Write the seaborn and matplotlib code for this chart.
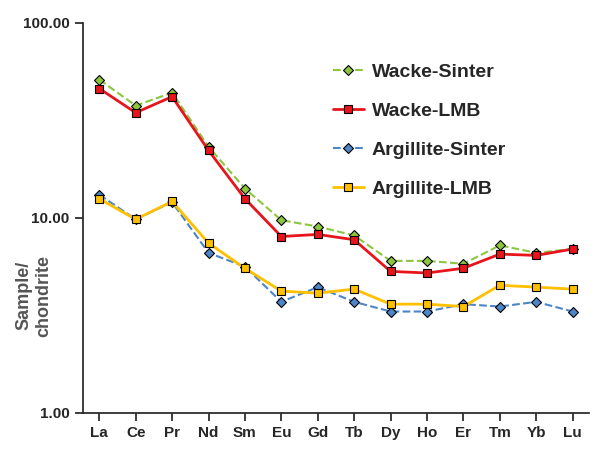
import numpy as np
import pandas as pd
import matplotlib
matplotlib.use('Agg')
import matplotlib.pyplot as plt
import seaborn as sns

sns.set_theme(style='ticks')
plt.rcParams['font.family'] = ['Liberation Sans', 'DejaVu Sans']

elements = ['La', 'Ce', 'Pr', 'Nd', 'Sm', 'Eu', 'Gd', 'Tb', 'Dy', 'Ho', 'Er', 'Tm', 'Yb', 'Lu']
wacke_sinter = [51, 37.5, 43.7, 23.1, 14.1, 9.7, 9.0, 8.1, 6.0, 6.0, 5.8, 7.2, 6.6, 6.9]
wacke_lmb = [45.9, 34.5, 41.7, 22.1, 12.5, 8.0, 8.2, 7.7, 5.3, 5.2, 5.5, 6.5, 6.4, 6.9]
argillite_sinter = [13.1, 9.8, 12.0, 6.6, 5.6, 3.7, 4.4, 3.7, 3.3, 3.3, 3.6, 3.5, 3.7, 3.3]
argillite_lmb = [12.5, 9.8, 12.1, 7.4, 5.5, 4.2, 4.1, 4.3, 3.6, 3.6, 3.5, 4.5, 4.4, 4.3]

series = {
    'Wacke-Sinter': (wacke_sinter, '#8cc63f', 'D', '--', 5),
    'Wacke-LMB': (wacke_lmb, '#e8141c', 's', '-', 6),
    'Argillite-Sinter': (argillite_sinter, '#4a86c8', 'D', '--', 5),
    'Argillite-LMB': (argillite_lmb, '#ffc000', 's', '-', 6),
}

fig, ax = plt.subplots(figsize=(5.92, 4.51), dpi=100)
fig.subplots_adjust(left=0.14, right=0.995, top=0.95, bottom=0.085)

x = np.arange(len(elements))
for name, (vals, col, mk, ls, ms) in series.items():
    df = pd.DataFrame({'x': x, 'y': vals})
    sns.lineplot(data=df, x='x', y='y', ax=ax, color=col, linestyle=ls,
                 lw=2 if ls == '-' else 1.5, marker=mk, markersize=ms,
                 markeredgecolor='black', markeredgewidth=0.8, label=name)

ax.set_yscale('log')
ax.set_ylim(1, 100)
ax.set_xlim(-0.45, len(elements) - 0.55)
ax.set_yticks([1, 10, 100])
ax.set_yticklabels(['1.00', '10.00', '100.00'], fontweight='bold', fontsize=11)
ax.minorticks_off()
ax.set_xticks(x)
ax.set_xticklabels(elements, fontweight='bold', fontsize=11)
ax.set_xlabel('')
ax.set_ylabel('Sample/\nchondrite', fontweight='bold', fontsize=13, color='#555555')
ax.yaxis.set_label_coords(-0.06, 0.3)
sns.despine(ax=ax)
ax.legend(loc='upper right', bbox_to_anchor=(0.87, 0.94), frameon=False,
          prop={'weight': 'bold', 'size': 14}, handlelength=1.6, labelspacing=1.1,
          handletextpad=0.4)

fig.savefig('out.png', dpi=100)
